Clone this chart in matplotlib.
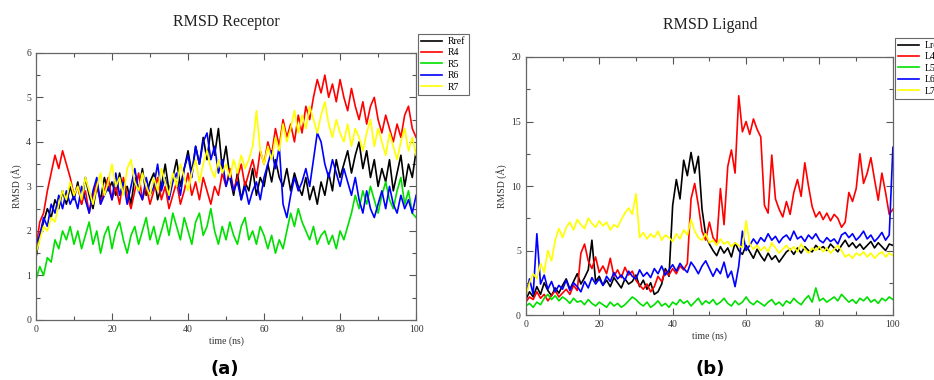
import numpy as np
import matplotlib
matplotlib.use("Agg")
from matplotlib import pyplot as plt
from matplotlib.ticker import MultipleLocator

# time axis, 1 ns steps
t = np.arange(0, 101)

# receptor RMSD (A)
r_ref = [1.4, 1.9, 2.2, 2.5, 2.3, 2.7, 2.5, 2.9, 2.6, 3.0, 2.7,
         3.1, 2.6, 3.2, 2.8, 2.5, 3.0, 2.7, 3.2, 2.9, 3.1,
         2.8, 3.3, 2.9, 3.0, 2.6, 3.2, 2.9, 3.4, 2.8, 3.1,
         3.3, 2.7, 3.0, 3.5, 2.9, 3.2, 3.6, 3.0, 3.4, 3.8,
         3.3, 3.9, 3.5, 4.1, 3.6, 4.3, 3.7, 4.3, 3.4, 3.9,
         3.2, 2.8, 3.3, 2.7, 3.1, 2.9, 3.4, 2.8, 3.2, 3.0,
         3.5, 3.1, 3.6, 3.2, 3.0, 3.4, 2.9, 3.3, 3.0, 2.8,
         3.2, 2.7, 3.0, 2.6, 3.1, 2.8, 3.3, 2.9, 3.6, 3.2,
         3.5, 3.8, 3.3, 3.7, 4.0, 3.4, 3.8, 3.2, 3.6, 3.0,
         3.4, 3.1, 3.6, 2.9, 3.3, 3.7, 3.0, 3.5, 3.2, 3.8]
r4 = [1.6, 2.2, 2.4, 2.9, 3.3, 3.7, 3.4, 3.8, 3.5, 3.2, 2.8,
      3.0, 2.6, 2.9, 2.4, 2.8, 3.1, 2.6, 2.9, 3.2, 2.7,
      3.0, 2.6, 3.2, 2.8, 2.5, 2.9, 3.3, 2.7, 3.0, 2.6,
      2.9, 3.2, 2.7, 3.0, 2.5, 2.8, 3.1, 2.6, 2.9, 3.3,
      2.8, 3.1, 2.7, 3.2, 2.9, 2.6, 3.0, 2.8, 3.3, 3.0,
      3.4, 2.9, 3.2, 3.5, 3.0, 3.3, 3.6, 3.2, 3.8, 3.5,
      4.0, 3.7, 4.3, 3.9, 4.5, 4.1, 4.4, 4.0, 4.6, 4.2,
      4.8, 4.5, 5.0, 5.4, 5.1, 5.5, 5.0, 5.3, 4.9, 5.4,
      5.0, 4.7, 5.2, 4.8, 4.5, 4.9, 4.4, 4.8, 5.0, 4.5,
      4.2, 4.6, 4.3, 4.0, 4.4, 4.1, 4.6, 4.8, 4.3, 4.1]
r5 = [0.9, 1.2, 1.0, 1.4, 1.3, 1.8, 1.6, 2.0, 1.8, 2.1, 1.7,
      2.0, 1.6, 1.9, 2.2, 1.7, 2.0, 1.5, 1.9, 2.1, 1.6,
      2.0, 2.2, 1.8, 1.5, 1.9, 2.1, 1.7, 2.0, 2.3, 1.8,
      2.1, 1.7, 2.0, 2.3, 1.9, 2.4, 2.1, 1.8, 2.3, 2.0,
      1.7, 2.2, 2.4, 1.9, 2.1, 2.5, 2.0, 1.7, 2.1, 1.8,
      2.2, 1.9, 1.7, 2.1, 2.3, 1.8, 2.0, 1.7, 2.1, 1.9,
      1.6, 1.9, 1.5, 1.8, 1.6, 2.0, 2.4, 2.1, 2.5, 2.2,
      2.0, 1.8, 2.1, 1.7, 1.9, 2.0, 1.7, 1.9, 1.6, 2.0,
      1.8, 2.1, 2.4, 2.8, 2.5, 2.9, 2.6, 3.0, 2.7, 2.4,
      2.8, 3.1, 2.7, 2.5, 2.9, 3.2, 2.6, 2.9, 2.4, 2.3]
r6 = [1.7, 1.9, 2.3, 2.1, 2.6, 2.4, 2.8, 2.5, 2.9, 2.6, 2.8,
      2.5, 3.0, 2.7, 2.4, 2.9, 3.2, 2.6, 2.8, 3.0, 2.7,
      3.3, 2.8, 3.1, 2.6, 3.0, 3.4, 2.9, 2.7, 3.2, 2.8,
      3.0, 3.5, 2.9, 3.2, 2.7, 3.1, 3.3, 2.8, 3.4, 3.7,
      3.2, 3.9, 3.5, 4.0, 4.2, 3.6, 3.9, 3.3, 3.6, 3.0,
      3.3, 2.9, 3.1, 2.7, 3.0, 2.6, 2.9, 3.1, 2.7, 3.2,
      3.5, 3.8, 3.4, 3.9, 2.6, 2.3, 2.8, 3.2, 2.9, 3.1,
      3.4, 3.0, 3.6, 4.2, 4.0, 3.5, 3.2, 3.6, 3.3, 3.0,
      3.4, 3.1, 2.8, 3.2, 2.7, 2.4, 2.9, 2.5, 2.3, 2.6,
      2.9, 2.5, 3.0, 2.6, 2.4, 2.8, 2.5, 2.7, 2.4, 2.8]
r7 = [1.5, 1.8, 2.1, 2.0, 2.3, 2.2, 2.6, 2.9, 2.7, 3.1, 2.8,
      3.0, 2.7, 3.2, 2.9, 2.6, 3.0, 3.3, 2.8, 3.1, 3.5,
      3.0, 3.2, 2.8, 3.4, 3.6, 3.1, 2.9, 3.3, 3.0, 2.8,
      3.2, 2.9, 3.4, 3.1, 2.8, 3.3, 3.0, 3.5, 3.2, 2.9,
      3.3, 3.6, 3.1, 3.5, 3.8, 3.4, 3.2, 3.6, 3.3, 3.5,
      3.2, 3.6, 3.3, 3.7, 3.4, 3.6, 3.9, 4.7, 3.8, 3.5,
      3.9, 3.6, 4.1, 3.8, 4.4, 4.0, 4.3, 4.7, 4.2, 4.6,
      4.3, 4.8, 4.5, 4.2, 4.6, 4.9, 4.4, 4.1, 4.5, 4.2,
      4.0, 4.4, 3.9, 4.3, 4.1, 3.8, 4.2, 4.5, 3.9, 4.3,
      4.0, 3.7, 4.2, 3.9, 3.6, 4.0, 4.3, 3.8, 4.1, 3.7]

# ligand RMSD (A)
l_ref = [1.2, 1.8, 1.4, 2.2, 1.6, 2.5, 1.9, 1.5, 2.1, 1.7, 2.3,
         2.8, 2.0, 2.6, 3.2, 2.4, 2.9, 3.5, 5.8, 2.6, 3.0,
         2.3, 2.7, 2.2, 2.9, 2.5, 2.1, 2.8, 2.4, 2.6, 3.1,
         2.2, 2.7, 2.0, 2.5, 1.6, 1.8, 2.4, 3.6, 3.0, 8.5,
         10.5, 9.0, 12.0, 10.8, 12.6, 11.0, 12.3, 8.2, 6.2, 5.5,
         5.0, 4.6, 5.3, 4.8, 5.2, 4.5, 5.6, 5.0, 4.7, 5.4,
         4.9, 4.4, 5.1, 4.6, 4.2, 4.8, 4.3, 4.6, 4.1, 4.5,
         4.9, 5.1, 4.7, 5.2, 4.8, 5.3, 5.0, 4.9, 5.4, 5.1,
         5.3, 5.0, 5.5, 5.2, 4.9, 5.4, 5.8, 5.3, 5.6, 5.2,
         5.5, 5.1, 5.4, 5.7, 5.2, 5.6, 5.3, 5.0, 5.5, 5.4]
l4 = [1.0, 1.4, 1.2, 1.8, 1.3, 1.6, 1.1, 1.5, 1.9, 1.4, 1.7,
      2.0, 1.6, 2.3, 1.9, 4.8, 5.5, 4.2, 3.6, 4.5, 3.3,
      3.8, 3.2, 4.4, 3.0, 3.5, 2.9, 3.7, 3.1, 3.4, 2.7,
      2.3, 2.0, 2.4, 1.8, 2.2, 3.0, 2.6, 3.4, 3.1, 3.6,
      3.2, 3.8, 3.5, 4.0, 9.0, 10.2, 8.5, 6.5, 5.8, 7.2,
      6.0, 5.6, 9.8, 7.0, 11.5, 12.8, 11.0, 17.0, 14.2, 15.0,
      14.0, 15.2, 14.4, 13.8, 8.5, 7.9, 12.4, 9.0, 8.2, 7.6,
      8.8, 7.8, 9.5, 10.5, 9.2, 11.8, 10.0, 8.4, 7.6, 8.0,
      7.4, 7.9, 7.3, 7.8, 7.5, 6.8, 7.2, 9.5, 8.8, 9.8,
      12.5, 10.2, 11.0, 12.2, 10.5, 8.9, 11.0, 9.5, 7.8, 8.2]
l5 = [0.7, 0.9, 0.6, 1.0, 0.8, 1.3, 1.6, 1.2, 1.5, 1.1, 1.4,
      1.2, 0.9, 1.3, 1.0, 1.1, 0.8, 1.2, 0.9, 0.7, 1.0,
      0.8, 0.6, 1.0, 0.7, 0.9, 0.6, 0.8, 1.1, 1.4, 1.2,
      0.9, 0.7, 1.0, 0.6, 0.8, 1.1, 0.7, 0.9, 0.6, 1.0,
      0.8, 1.2, 0.9, 1.1, 0.7, 1.0, 1.3, 0.8, 1.1, 0.9,
      1.2, 0.8, 1.0, 1.3, 0.9, 0.7, 1.1, 0.8, 1.0, 1.4,
      1.0, 0.8, 1.1, 0.9, 0.7, 1.0, 1.2, 0.8, 1.0, 0.7,
      1.1, 0.9, 1.3, 1.0, 0.8, 1.2, 1.5, 1.0, 2.1, 1.1,
      1.3, 1.0, 1.2, 1.4, 1.1, 1.6, 1.3, 1.0, 1.2, 0.9,
      1.3, 1.1, 1.4, 1.0, 1.2, 0.9, 1.3, 1.1, 1.4, 1.2]
l6 = [1.5, 2.8, 1.6, 6.3, 2.4, 3.1, 2.0, 2.6, 1.8, 2.3, 2.0,
      2.7, 1.9, 2.5, 2.2, 1.8, 2.6, 2.1, 2.9, 2.4, 2.8,
      2.3, 3.0, 2.6, 3.3, 2.8, 3.1, 2.7, 3.4, 3.0, 2.8,
      3.5, 3.0, 3.3, 2.9, 3.6, 3.2, 3.8, 3.1, 3.5, 3.9,
      3.4, 4.0, 3.6, 3.3, 4.1, 3.7, 3.2, 3.8, 4.2, 3.6,
      3.0, 3.6, 3.2, 4.1, 2.9, 3.4, 2.2, 3.8, 6.5, 5.0,
      5.4, 5.9, 5.5, 6.0, 5.7, 6.3, 5.8, 6.1, 5.6, 6.0,
      6.2, 5.8, 6.5, 5.9, 6.1, 5.7, 6.2, 5.9, 6.3, 5.8,
      5.6, 6.0, 5.7, 5.9, 5.5, 6.2, 6.4, 6.0, 6.3, 5.8,
      6.1, 6.5, 5.9, 6.2, 5.7, 6.0, 6.4, 5.8, 6.2, 15.5, 13.0]
l7 = [1.5, 2.5, 3.2, 2.8, 4.0, 3.3, 5.0, 4.2, 5.8, 6.7, 6.0,
      6.8, 7.2, 6.6, 7.4, 7.0, 6.7, 7.5, 7.1, 6.8, 7.3,
      6.9, 7.2, 6.6, 7.0, 6.8, 7.4, 7.9, 8.3, 7.8, 9.4,
      6.0, 6.4, 5.9, 6.3, 6.0, 6.5, 5.8, 6.2, 6.0, 5.7,
      6.3, 5.9, 6.6, 6.2, 7.4, 6.5, 6.0, 5.8, 6.3, 5.6,
      5.8, 5.4, 5.9, 5.5, 5.7, 5.3, 5.6, 5.4, 5.2, 7.3,
      5.5, 5.1, 5.4, 5.0, 5.3, 4.9, 5.6, 5.2, 4.8, 5.1,
      5.4, 5.0, 5.3, 4.9, 5.5, 5.1, 4.8, 5.2, 5.0, 5.3,
      4.9, 5.2, 4.8, 5.1, 5.4, 5.0, 4.5, 4.7, 4.4, 4.8,
      4.6, 4.9, 4.5, 4.8, 4.4, 4.7, 4.9, 4.5, 4.8, 4.6]
l6 = l6[:100] + [l6[-1]]

rec_names = ["Rref", "R4", "R5", "R6", "R7"]
lig_names = ["Lref", "L4", "L5", "L6", "L7"]
colors = ["black", "#ff0000", "#00e000", "#0000ff", "#ffff00"]

serif = "Liberation Serif"


def style_axes(ax, ymax, ymajor):
    ax.set_xlim(0, 100)
    ax.set_ylim(0, ymax)
    ax.xaxis.set_major_locator(MultipleLocator(20))
    ax.xaxis.set_minor_locator(MultipleLocator(10))
    ax.yaxis.set_major_locator(MultipleLocator(ymajor))
    ax.yaxis.set_minor_locator(MultipleLocator(ymajor / 2))
    ax.tick_params(which="both", direction="in", top=True, right=True,
                   colors="#555555", labelcolor="#333333", labelsize=7, width=0.8)
    ax.tick_params(which="major", length=5)
    ax.tick_params(which="minor", length=3)
    for lab in ax.get_xticklabels() + ax.get_yticklabels():
        lab.set_family(serif)
    for s in ax.spines.values():
        s.set_color("#666666")
        s.set_linewidth(0.9)
    ax.set_xlabel("time (ns)", family=serif, fontsize=7, color="#333333", labelpad=2)
    ax.set_ylabel("RMSD (Å)", family=serif, fontsize=7, color="#333333", labelpad=3)


fig = plt.figure(figsize=(9.34, 3.80), dpi=100)
ax1 = fig.add_axes([0.0385, 0.158, 0.407, 0.703])
ax2 = fig.add_axes([0.563, 0.171, 0.393, 0.679])

for name, y, c in zip(rec_names, [r_ref, r4, r5, r6, r7], colors):
    ax1.plot(t, y, color=c, lw=1.2, label=name)
for name, y, c in zip(lig_names, [l_ref, l4, l5, l6, l7], colors):
    ax2.plot(t, y, color=c, lw=1.2, label=name)

style_axes(ax1, 6, 1)
style_axes(ax2, 20, 5)

for ax, anchor in [(ax1, (418 / 934, 346 / 380)), (ax2, (895 / 934, 342 / 380))]:
    h, l = ax.get_legend_handles_labels()
    leg = fig.legend(h, l, loc="upper left", bbox_to_anchor=anchor,
                     prop={"family": serif, "size": 7}, frameon=True, fancybox=False,
                     labelspacing=0.25, handlelength=2.2, borderpad=0.3,
                     handletextpad=0.6, borderaxespad=0)
    leg.get_frame().set_edgecolor("#444444")
    leg.get_frame().set_linewidth(0.8)

fig.text(226 / 934, 0.942, "RMSD Receptor", family=serif, fontsize=11.5,
         ha="center", va="center", color="#222222")
fig.text(710 / 934, 0.935, "RMSD Ligand", family=serif, fontsize=11.5,
         ha="center", va="center", color="#222222")
fig.text(225 / 934, 0.03, "(a)", fontsize=13, fontweight="bold",
         ha="center", va="center")
fig.text(710 / 934, 0.03, "(b)", fontsize=13, fontweight="bold",
         ha="center", va="center")

fig.savefig("out.png", dpi=100)
